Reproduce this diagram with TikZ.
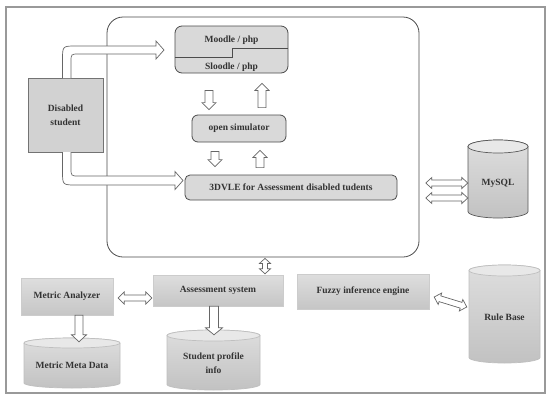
\documentclass[tikz,border=0pt]{standalone}
\usepackage{fontspec}
\setmainfont{Liberation Serif}
\usetikzlibrary{calc}
\tikzset{
  lbl/.style={font=\fontsize{9.5}{14}\selectfont\bfseries, text=black!80},
  rbox/.style={draw=gray!60!black, fill=gray!30, rounded corners=7pt, line width=0.8pt, inner sep=0pt, lbl},
  gbox/.style={draw=gray!40, top color=gray!26, bottom color=gray!45, inner sep=0pt, lbl},
  fatar/.style={draw=gray!80!black, fill=white, line width=0.7pt, line join=miter},
  cylbody/.style={draw=gray!50, top color=gray!26, bottom color=gray!48, line width=0.7pt},
  cyltop/.style={draw=gray!50, fill=gray!18, line width=0.7pt},
}
% single fat arrow: [style]{start}{end}{shaft half}{head half}{head length}
\newcommand\fatarrow[6][]{%
  \path[fatar,#1] let \p1=(#2), \p2=(#3), \n1={atan2(\y2-\y1,\x2-\x1)}, \n2={veclen(\x2-\x1,\y2-\y1)} in
   [shift={(\p1)}, rotate=\n1] (0,#4) -- ({\n2-#6},#4) -- ({\n2-#6},#5) -- (\n2,0) -- ({\n2-#6},-#5) -- ({\n2-#6},-#4) -- (0,-#4) -- cycle;}
% double fat arrow
\newcommand\fatdarrow[6][]{%
  \path[fatar,#1] let \p1=(#2), \p2=(#3), \n1={atan2(\y2-\y1,\x2-\x1)}, \n2={veclen(\x2-\x1,\y2-\y1)} in
   [shift={(\p1)}, rotate=\n1] (#6,#4) -- ({\n2-#6},#4) -- ({\n2-#6},#5) -- (\n2,0) -- ({\n2-#6},-#5) -- ({\n2-#6},-#4) -- (#6,-#4) -- (#6,-#5) -- (0,0) -- (#6,#5) -- cycle;}
% cylinder: [style]{name}{x left}{y top}{width}{height}{ry}
\newcommand\cyl[7][]{%
  \path[cylbody,#1] (#3,#4+#7) -- (#3,#4+#6-#7) arc[start angle=180,end angle=0,x radius=#5/2,y radius=#7] -- (#3+#5,#4+#7) arc[start angle=0,end angle=-180,x radius=#5/2,y radius=#7] -- cycle;
  \path[cyltop,#1] (#3+#5/2,#4+#7) ellipse[x radius=#5/2,y radius=#7];
  \node[inner sep=0pt,minimum width=#5,minimum height=#6] (#2) at (#3+#5/2,#4+#6/2) {};}
\begin{document}
\begin{tikzpicture}[x=1pt,y=-1pt]
\useasboundingbox (0,0) rectangle (550,400);
\fill[white] (0,0) rectangle (550,400);
\draw[gray!80, line width=1.5pt] (6,7) rectangle (545,393);

% big container
\node[draw=gray!60!black, rounded corners=16pt, minimum width=312, minimum height=240, line width=0.8pt] (vle) at (263,137) {};

% inner boxes
\node[rbox, minimum width=113, minimum height=47] (moodle) at (231.5,49.5) {};
\node[lbl] (moodletxt) at ($(moodle.center)+(0,-9.5)$) {Moodle / php};
\node[lbl] (sloodletxt) at ($(moodle.center)+(0,18)$) {Sloodle / php};
\draw[gray!60!black, line width=0.8pt] ($(moodle.west)+(0,7.5)$) -- ++(58,0) -- ++(0,-9) -- ++(55,0);

\node[rbox, rounded corners=6pt, minimum width=94, minimum height=27] (sim) at (239,128.5) {open simulator};
\node[rbox, rounded corners=5pt, minimum width=212, minimum height=25] (dvle) at (291,187.5) {3DVLE for Assessment disabled tudents};

% disabled student
\node[draw=gray!90!black, fill=gray!35, minimum width=75, minimum height=74, align=center, line width=0.8pt, lbl] (dis) at (65.5,115) {Disabled\\student};

% curved fat arrows
\draw[fatar] (62.5,78) -- (62.5,60) .. controls (62.5,46) .. (76,46) -- (156,46) -- (156,41) -- (164,50) -- (156,59) -- (156,54) -- (79,54) .. controls (71,54) .. (71,62) -- (71,78);
\draw[fatar] (62.5,152) -- (62.5,171) .. controls (62.5,185) .. (76,185) -- (175,185) -- (175,189.5) -- (183,180.5) -- (175,171.5) -- (175,176) -- (79,176) .. controls (71,176) .. (71,168) -- (71,152);

% vertical arrows inside
\fatarrow{$(moodle.south)+(-22.5,17)$}{$(sim.north)+(-30,-5)$}{4}{7}{7}
\fatarrow{$(sim.north)+(23,-7)$}{$(moodle.south)+(30.5,10)$}{4}{7}{7}
\fatarrow{$(sim.south)+(-24,9)$}{$(dvle.north)+(-76,-8)$}{4}{7}{7}
\fatarrow{$(dvle.north)+(-31,-7)$}{$(sim.south)+(21,8)$}{4}{7}{7}

% MySQL
\cyl[draw=gray!70!black]{mysql}{468}{140}{60}{78}{6.5}
\node[lbl] (mysqltxt) at (498,183) {MySQL};
\fatdarrow{$(mysql.west)+(-42,4)$}{$(mysql.west)+(0,4)$}{3}{5.5}{6}
\fatdarrow{$(mysql.west)+(-42,19)$}{$(mysql.west)+(0,19)$}{3}{5.5}{6}

% bottom row
\node[gbox, minimum width=130, minimum height=31] (assess) at (218,290.5) {Assessment system};
\node[gbox, minimum width=92, minimum height=37] (metric) at (67,296.5) {Metric Analyzer};
\node[gbox, minimum width=132, minimum height=35] (fuzzy) at (363,291.5) {Fuzzy inference engine};

\fatdarrow{$(vle.south)+(2,1)$}{$(assess.north)+(47,-1)$}{2.5}{5.5}{5}
\fatdarrow{$(metric.east)+(5,1.5)$}{$(assess.west)+(-1,7.5)$}{3}{6}{6}

\cyl{mmd}{24}{338}{96}{50}{5}
\node[lbl] (mmdtxt) at (72,365) {Metric Meta Data};
\cyl{spi}{167}{330}{93}{60}{5.5}
\node[lbl, align=center] (spitxt) at (213.5,363.5) {Student profile\\info};
\cyl{rule}{469}{265}{71}{98}{5.5}
\node[lbl] (ruletxt) at (504.5,317) {Rule Base};

\fatarrow{$(metric.south)+(12,0)$}{$(mmd.north)+(7,4)$}{4}{7.5}{7}
\fatarrow{$(assess.south)+(-4,0)$}{$(spi.north)+(0.5,5)$}{4.5}{8.5}{7}
\fatdarrow{$(fuzzy.east)+(5,5.5)$}{$(rule.west)+(-2,-7)$}{3}{6}{6}
\end{tikzpicture}
\end{document}
